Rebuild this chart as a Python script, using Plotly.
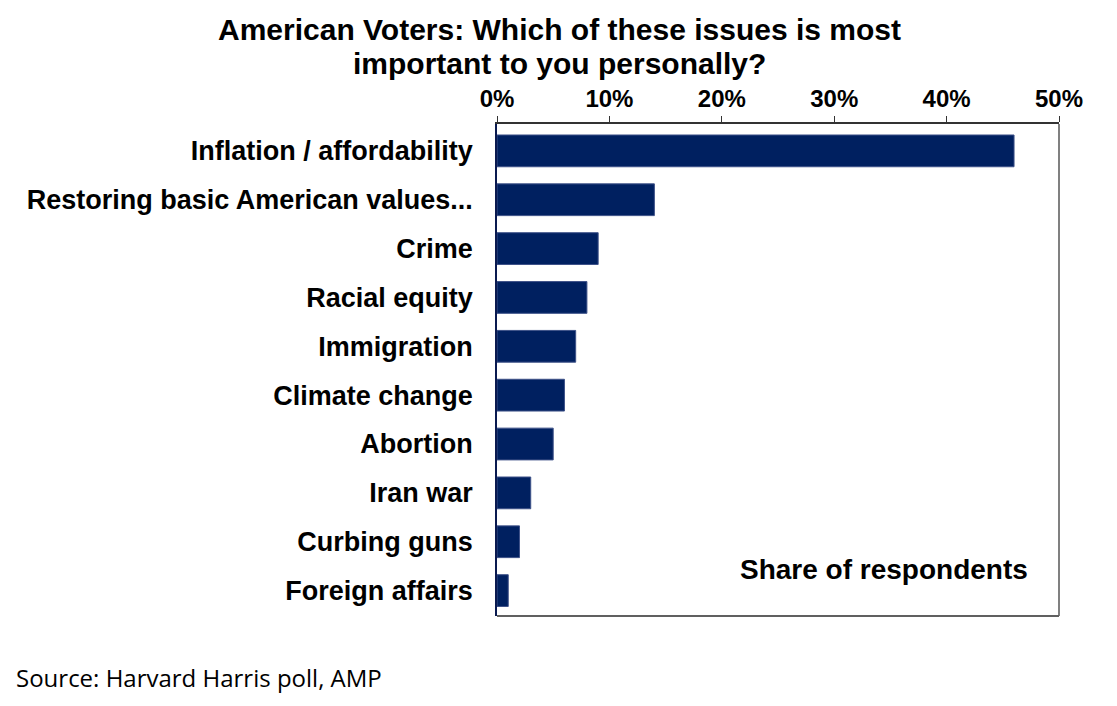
import plotly.graph_objects as go

# survey data
issues = [
    "Inflation / affordability",
    "Restoring basic American values...",
    "Crime",
    "Racial equity",
    "Immigration",
    "Climate change",
    "Abortion",
    "Iran war",
    "Curbing guns",
    "Foreign affairs",
]
share = [0.46, 0.14, 0.09, 0.08, 0.07, 0.06, 0.05, 0.03, 0.02, 0.01]
x_ticks = [0, 0.1, 0.2, 0.3, 0.4, 0.5]
x_tick_labels = ["0%", "10%", "20%", "30%", "40%", "50%"]
title_lines = ["American Voters: Which of these issues is most",
               "important to you personally?"]

BAR = "#002060"
FONT = "Liberation Sans, Arial, sans-serif"

fig = go.Figure()
fig.add_bar(
    x=share, y=issues, orientation="h",
    marker=dict(color=BAR, line=dict(color="#3d5188", width=1)),
)

fig.update_layout(
    width=1117, height=706,
    margin=dict(l=489, r=66, t=116, b=98),
    paper_bgcolor="white", plot_bgcolor="white",
    showlegend=False, bargap=0.35,
    font=dict(family=FONT, color="black"),
)

fig.update_xaxes(
    side="top", range=[0, 0.5], tickvals=x_ticks, ticktext=x_tick_labels,
    ticks="outside", ticklen=6, tickcolor="#333333",
    showline=True, linecolor="#333333", linewidth=1.5,
    showgrid=False, zeroline=False,
    tickfont=dict(family=FONT, size=24, weight="bold"),
)
fig.update_yaxes(
    range=[9.52, -0.55], showgrid=False, zeroline=False,
    showline=True, linecolor="#0a1a50", linewidth=1.5,
    ticks="", ticklabelstandoff=17,
    tickfont=dict(family=FONT, size=27, weight="bold"),
)

# gray right/bottom edges of the plot box
fig.add_shape(type="line", xref="paper", yref="paper", x0=1, x1=1, y0=0, y1=1,
              line=dict(color="#808080", width=2))
fig.add_shape(type="line", xref="paper", yref="paper", x0=0, x1=1, y0=0, y1=0,
              line=dict(color="#606060", width=2))

# title, one annotation per line to keep the lines tight
for i, line in enumerate(title_lines):
    fig.add_annotation(
        text=line, xref="paper", yref="paper", x=0.112, y=1.0,
        yshift=95 - 34 * i, xanchor="center", yanchor="middle", showarrow=False,
        font=dict(family=FONT, size=30, weight="bold", color="black"),
    )
fig.add_annotation(
    text="Share of respondents", xref="paper", yref="paper",
    x=0.948, y=0.095, xanchor="right", yanchor="middle", showarrow=False,
    font=dict(family=FONT, size=28, weight="bold", color="black"),
)
fig.add_annotation(
    text="Source: Harvard Harris poll, AMP", xref="paper", yref="paper",
    x=-0.859, y=-0.125, xanchor="left", yanchor="middle", showarrow=False,
    font=dict(family="Open Sans, sans-serif", size=24, color="black"),
)

fig.write_html("out.html")
